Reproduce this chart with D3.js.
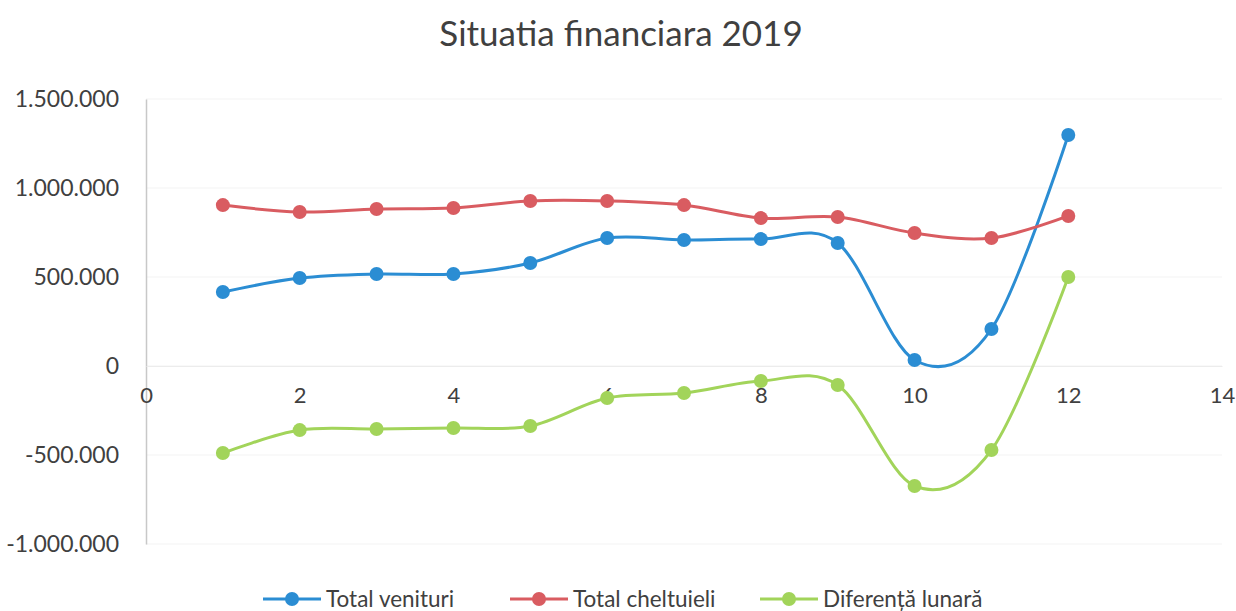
<!DOCTYPE html>
<html>
<head>
<meta charset="utf-8">
<script src="https://cdn.jsdelivr.net/npm/d3@7"></script>
<style>
  body { margin: 0; background: #fff; }
  svg text { font-family: Lato, "Open Sans", sans-serif; fill: #404040; }
</style>
</head>
<body>
<div id="chart-div"></div>
<script>
// months and values
var months = [1, 2, 3, 4, 5, 6, 7, 8, 9, 10, 11, 12];
var venituri = [416000, 494000, 517000, 517000, 579000, 719000, 708000, 713000, 691000, 34000, 208000, 1298000];
var cheltuieli = [904000, 865000, 882000, 888000, 927000, 927000, 904000, 831000, 837000, 747000, 719000, 843000];
var diferenta = [-489000, -360000, -354000, -348000, -337000, -180000, -152000, -84000, -107000, -674000, -472000, 500000];
var seriesNames = ["Total venituri", "Total cheltuieli", "Diferență lunară"];
var seriesColors = ["#2b8dd3", "#d95c61", "#a2d45a"];
var yTicks = [-1000000, -500000, 0, 500000, 1000000, 1500000];
var xTicks = [0, 2, 4, 6, 8, 10, 12, 14];

var width = 1236,
    height = 611;

var svg = d3.select("#chart-div").append("svg")
    .attr("width", width)
    .attr("height", height);

var xScale = d3.scaleLinear().domain([0, 14]).range([146, 1222]);
var yScale = d3.scaleLinear().domain([-1000000, 1500000]).range([544, 99]);

// number format like "1.500.000"
function fmt(v) {
    if (v == 0) return "0";
    var s = d3.format(",")(Math.abs(v)).replace(/,/g, ".");
    return (v < 0 ? "-" : "") + s;
}

// title
svg.append("text")
    .attr("x", 621)
    .attr("y", 46)
    .attr("text-anchor", "middle")
    .style("font-size", "35px")
    .text("Situatia financiara 2019");

// horizontal gridlines (faint in the scan)
svg.append("g")
    .selectAll("line")
    .data(yTicks)
    .enter()
    .append("line")
        .attr("x1", xScale(0))
        .attr("x2", xScale(14))
        .attr("y1", function(d) { return yScale(d); })
        .attr("y2", function(d) { return yScale(d); })
        .style("stroke", "#f3f3f3")
        .style("stroke-width", 1);

// y axis
var yAxis = svg.append("g")
    .attr("transform", "translate(" + xScale(0) + ",0)")
    .call(d3.axisLeft(yScale).tickValues(yTicks).tickFormat(fmt).tickSize(0).tickPadding(27));
yAxis.select(".domain").style("stroke", "#c8c8c8").style("stroke-width", 1.5);
yAxis.selectAll("text").style("font-size", "23px").style("fill", "#404040");

// x axis crossing at zero
var xAxis = svg.append("g")
    .attr("transform", "translate(0," + yScale(0) + ")")
    .call(d3.axisBottom(xScale).tickValues(xTicks).tickSize(0).tickPadding(21));
xAxis.select(".domain").style("stroke", "#ececec");
xAxis.selectAll("text").style("font-size", "22px").style("fill", "#404040");

// series
var allSeries = [venituri, cheltuieli, diferenta];
var line = d3.line()
    .x(function(d) { return xScale(d[0]); })
    .y(function(d) { return yScale(d[1]); })
    .curve(d3.curveCardinal.tension(0));

allSeries.forEach(function(values, i) {
    var pts = months.map(function(m, j) { return [m, values[j]]; });
    svg.append("path")
        .datum(pts)
        .attr("d", line)
        .style("fill", "none")
        .style("stroke", seriesColors[i])
        .style("stroke-width", 3);
    svg.append("g")
        .selectAll("circle")
        .data(pts)
        .enter()
        .append("circle")
            .attr("cx", function(d) { return xScale(d[0]); })
            .attr("cy", function(d) { return yScale(d[1]); })
            .attr("r", 7)
            .style("fill", seriesColors[i]);
});

// legend
var legendX = [263, 510, 760];
var legend = svg.append("g")
    .selectAll("g")
    .data(seriesNames)
    .enter()
    .append("g")
        .attr("transform", function(d, i) { return "translate(" + legendX[i] + ",599)"; });
legend.append("line")
    .attr("x1", 0).attr("x2", 58)
    .style("stroke", function(d, i) { return seriesColors[i]; })
    .style("stroke-width", 3);
legend.append("circle")
    .attr("cx", 29).attr("r", 7)
    .style("fill", function(d, i) { return seriesColors[i]; });
legend.append("text")
    .attr("x", 63)
    .attr("y", 8)
    .style("font-size", "22.5px")
    .text(function(d) { return d; });
</script>
</body>
</html>
